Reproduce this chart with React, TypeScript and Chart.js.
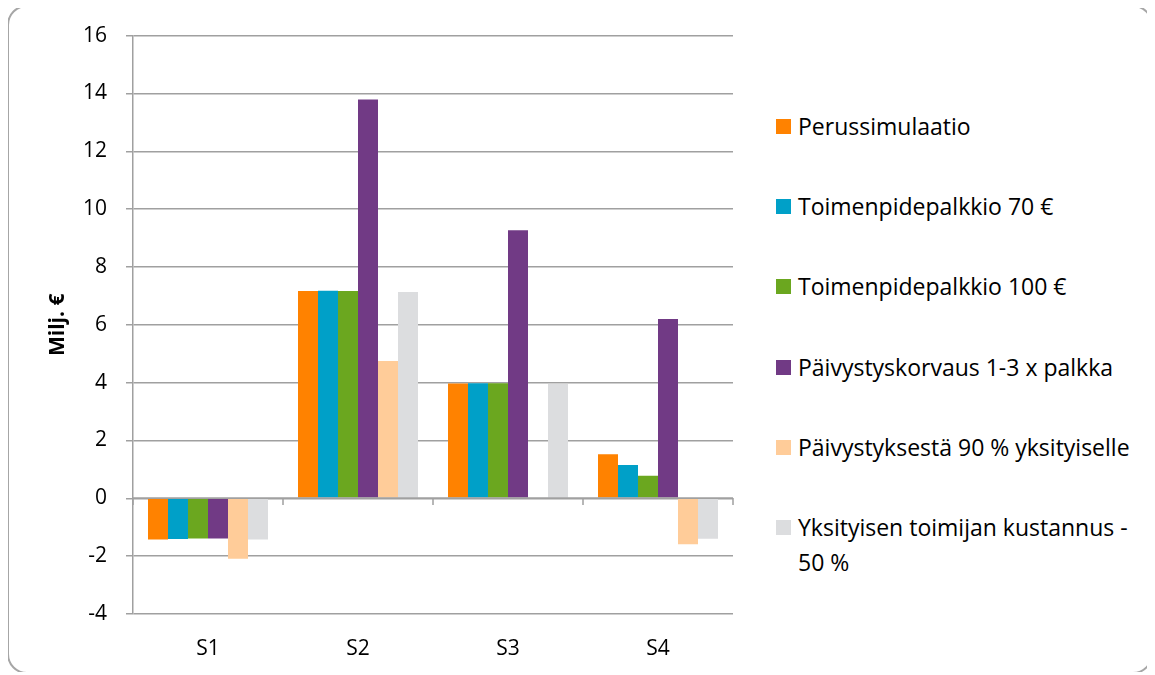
import React, { useEffect, useRef } from "react";
import { Chart, registerables } from "chart.js";
Chart.register(...registerables);

const categories = ["S1", "S2", "S3", "S4"];
const seriesNames = [
  "Perussimulaatio",
  "Toimenpidepalkkio 70 €",
  "Toimenpidepalkkio 100 €",
  "Päivystyskorvaus 1-3 x palkka",
  "Päivystyksestä 90 % yksityiselle",
  "Yksityisen toimijan kustannus - 50 %",
];
const perussimulaatio = [-1.42, 7.17, 3.97, 1.52];
const toimenpidepalkkio70 = [-1.41, 7.18, 3.98, 1.15];
const toimenpidepalkkio100 = [-1.39, 7.17, 3.98, 0.78];
const paivystyskorvaus = [-1.39, 13.79, 9.27, 6.2];
const paivystyksesta90 = [-2.09, 4.75, 0, -1.59];
const yksityinen50 = [-1.42, 7.13, 3.95, -1.4];
const seriesValues = [
  perussimulaatio,
  toimenpidepalkkio70,
  toimenpidepalkkio100,
  paivystyskorvaus,
  paivystyksesta90,
  yksityinen50,
];
const seriesColors = ["#FF8200", "#00A0C8", "#6BA71F", "#713A85", "#FFCC99", "#DCDDDF"];
const yMin = -4;
const yMax = 16;
const yStep = 2;
const yTitle = "Milj. €";

const GRID = "#A0A0A0";
const FONT = "'Open Sans', 'DejaVu Sans', sans-serif";

const zeroLine = {
  id: "zeroLine",
  afterDatasetsDraw(chart: any) {
    const { ctx, scales } = chart;
    const x = scales.x;
    const y = scales.y;
    const y0 = Math.round(y.getPixelForValue(0));
    ctx.save();
    ctx.strokeStyle = GRID;
    ctx.lineWidth = 1.5;
    ctx.beginPath();
    ctx.moveTo(x.left, y0);
    ctx.lineTo(x.right, y0);
    const n = chart.data.labels.length;
    for (let i = 0; i <= n; i++) {
      let px: number;
      if (i === 0) px = x.left;
      else if (i === n) px = x.right;
      else px = (x.getPixelForValue(i - 1) + x.getPixelForValue(i)) / 2;
      px = Math.round(px);
      ctx.moveTo(px, y0);
      ctx.lineTo(px, y0 + 7);
    }
    ctx.stroke();
    ctx.restore();
  },
};

export default function App() {
  const ref = useRef<HTMLCanvasElement>(null);
  useEffect(() => {
    if (!ref.current) return;
    const chart = new Chart(ref.current, {
      type: "bar",
      data: {
        labels: categories,
        datasets: seriesValues.map((v, i) => ({
          label: seriesNames[i],
          data: v,
          backgroundColor: seriesColors[i],
          borderWidth: 0,
          categoryPercentage: 0.8,
          barPercentage: 1.0,
        })),
      },
      options: {
        animation: false,
        responsive: false,
        devicePixelRatio: 1,
        layout: { padding: { left: 0, right: 16, top: 9.5, bottom: 0 } },
        plugins: { legend: { display: false }, tooltip: { enabled: false } },
        scales: {
          x: {
            grid: { display: false, drawTicks: false },
            border: { display: false },
            afterFit: (s: any) => {
              s.height = 58;
            },
            ticks: { color: "#000", font: { family: FONT, size: 21 }, padding: 22 },
          },
          y: {
            min: yMin,
            max: yMax,
            afterFit: (s: any) => {
              s.width = 125;
            },
            ticks: {
              stepSize: yStep,
              color: "#000",
              font: { family: FONT, size: 21 },
              padding: 19,
            },
            grid: { color: GRID, lineWidth: 1.5, tickLength: 7, tickColor: GRID },
            border: { display: true, color: GRID, width: 1.5 },
            title: {
              display: true,
              text: yTitle,
              color: "#000",
              font: { family: FONT, size: 21, weight: "bold" },
              padding: { top: 37, bottom: 0 },
            },
          },
        },
      },
      plugins: [zeroLine],
    });
    return () => chart.destroy();
  }, []);

  return (
    <div style={{ position: "relative", width: 1147, height: 664, fontFamily: FONT }}>
      <div
        style={{
          position: "absolute",
          left: -1,
          top: -3,
          width: 1146,
          height: 669,
          border: "2px solid #A6A6A6",
          borderRadius: 20,
          boxSizing: "border-box",
        }}
      />
      <canvas
        ref={ref}
        width={741}
        height={668}
        style={{ position: "absolute", left: 0, top: -4, width: 741, height: 668 }}
      />
      <div style={{ position: "absolute", left: 768, top: 0, width: 370 }}>
        {seriesNames.map((name, i) => (
          <div
            key={name}
            style={{
              position: "absolute",
              left: 0,
              top: 101 + i * 80.2,
              display: "flex",
              alignItems: "flex-start",
              fontSize: 23,
              lineHeight: "35px",
              color: "#000",
            }}
          >
            <span
              style={{
                display: "inline-block",
                width: 15,
                height: 15,
                marginTop: 10,
                marginRight: 7,
                background: seriesColors[i],
                flex: "0 0 auto",
              }}
            />
            <span style={{ width: 345 }}>{name}</span>
          </div>
        ))}
      </div>
    </div>
  );
}
